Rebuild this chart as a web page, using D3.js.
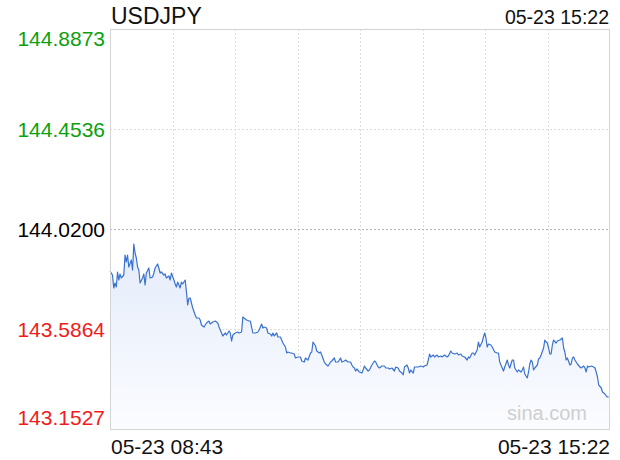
<!DOCTYPE html>
<html>
<head>
<meta charset="utf-8">
<script src="https://cdn.jsdelivr.net/npm/d3@7"></script>
<style>
body { margin: 0; background: #fff; }
text { font-family: "Liberation Sans", Arial, sans-serif; }
</style>
</head>
<body>
<div id="chart"></div>
<script>
const svg_w = 620;
const svg_h = 460;
const left_margin = 110;
const right_edge = 610;
const top_edge = 29;
const bottom_edge = 429;

const symbol = "USDJPY";
const stampLabel = "05-23 15:22";
const startLabel = "05-23 08:43";
const endLabel = "05-23 15:22";
const sessionMinutes = 399; // 08:43 -> 15:22
const prevClose = 144.0200;
const yTicks = [144.8873, 144.4536, 144.0200, 143.5864, 143.1527];

// minutes since 08:43
const times = [
    0,2,3,4,5,6,7,8,9,11,12,13,14,15,17,18,19,20,21,22,23,24,26,27,28,29,31,32,34,35,36,38,39,40,41,43,44,45,47,48,49,51,52,53,54,56,57,58,60,61,62,63,64,65,66,68,69,71,
    72,73,75,77,79,80,82,84,86,87,89,90,92,93,95,96,97,98,100,102,103,105,106,108,109,111,112,113,114,116,118,119,121,122,123,125,126,128,129,130,131,133,134,136,137,138,140,141,142,144,145,147,148,150,
    152,153,155,156,158,160,161,162,164,165,167,168,169,171,172,174,176,177,179,180,182,184,185,187,188,190,192,193,194,195,196,197,199,201,202,203,204,206,207,209,211,212,214,215,217,219,220,222,223,225,227,228,230,
    231,233,234,235,237,238,239,240,242,243,244,246,248,250,251,253,254,255,256,258,259,261,262,264,265,267,269,270,272,273,275,277,278,280,281,283,285,286,287,289,290,291,293,294,295,297,298,299,300,301,302,304,305,307,309,310,
    311,313,314,315,317,318,319,321,322,323,324,325,326,328,329,330,331,333,334,335,336,337,338,339,341,342,343,344,346,347,348,349,350,351,352,353,354,356,357,359,360,361,362,363,364,365,367,368,369,370,371,373,375,376,378,379,380,381,382,384,386,387,388,389,390,392,393,394,395,396,397,398
];

const prices = [
    143.8379,143.8205,143.7642,143.7858,143.7685,143.8335,143.7988,143.8249,143.8075,143.8205,
    143.9073,143.8769,143.9073,143.8552,143.8856,143.8422,143.9550,143.9159,143.8942,143.8552,
    143.8422,143.7858,143.8075,143.8249,143.7772,143.8292,143.8509,143.8075,143.8119,143.8292,
    143.8509,143.8682,143.8509,143.8292,143.8335,143.8205,143.8249,143.8075,143.8162,143.7988,
    143.8292,143.7988,143.7815,143.7685,143.7902,143.7642,143.7902,143.7815,143.7988,143.7468,
    143.6904,143.7208,143.7208,143.6991,143.6774,143.6471,143.6341,143.6341,
    143.6254,143.6037,143.5950,143.6124,143.6210,143.6080,143.6167,143.6210,143.6124,143.5950,
    143.5690,143.5560,143.5690,143.5603,143.5777,143.5690,143.5343,143.5603,143.5690,143.5733,
    143.5690,143.5733,143.6384,143.6297,143.6254,143.6210,143.6210,143.5950,143.5690,143.5690,
    143.5733,143.5820,143.6080,143.5907,143.5950,143.5907,143.5690,143.5647,143.5560,143.5690,
    143.5560,143.5690,143.5517,143.5517,143.5386,143.5256,143.5083,143.4823,143.4866,143.4823,
    143.4823,143.4779,143.4606,143.4649,
    143.4649,143.4476,143.4432,143.4606,143.4519,143.4823,143.4866,143.5300,143.5126,143.4909,
    143.4823,143.4866,143.4736,143.4432,143.4346,143.4259,143.4432,143.4476,143.4606,143.4432,
    143.4432,143.4606,143.4432,143.4476,143.4519,143.4432,143.4432,143.4302,143.4216,143.4172,
    143.4042,143.4129,143.3999,143.3955,143.4086,143.4259,143.4172,143.4042,143.4086,143.4302,
    143.4476,143.4432,143.4216,143.4172,143.4259,143.4259,143.4172,143.4172,143.4129,143.4172,
    143.4042,143.4216,143.4172,
    143.4042,143.3955,143.3869,143.4216,143.4302,143.4172,143.3955,143.4086,143.3955,143.4216,
    143.4216,143.4216,143.4259,143.4216,143.4259,143.4302,143.4519,143.4779,143.4649,143.4736,
    143.4649,143.4736,143.4649,143.4693,143.4649,143.4736,143.4649,143.4693,143.4909,143.4823,
    143.4779,143.4823,143.4736,143.4779,143.4693,143.4649,143.4519,143.4649,143.4606,143.4823,
    143.4823,143.4736,143.4953,143.5300,143.5083,143.5300,143.5517,143.5690,143.5473,143.5083,
    143.5213,143.5170,143.5083,143.4866,143.4823,143.4823,
    143.4432,143.4172,143.4042,143.4216,143.4519,143.4302,143.4172,143.4519,143.4519,143.4172,
    143.4086,143.3999,143.4086,143.3999,143.4086,143.4216,143.3912,143.3739,143.3999,143.4346,
    143.4519,143.4432,143.4086,143.4172,143.4302,143.4563,143.4606,143.4736,143.5040,143.5386,
    143.5300,143.5256,143.5040,143.4779,143.4779,143.5170,143.5386,143.5256,143.5343,143.5386,
    143.5430,143.5473,143.5040,143.4866,143.4519,143.4606,143.4302,143.4346,143.4606,143.4649,
    143.4519,143.4346,143.4216,143.4172,143.4259,143.4172,143.3999,143.4259,143.4216,143.4259,
    143.4216,143.4172,143.3999,143.3782,143.3435,143.3305,143.3132,143.3088,143.3045,143.2958,
    143.2915,143.2915
];

function drawChart() {
    var data = d3.zip(times, prices).map(d => ({t: d[0], p: d[1]}));

    var svg = d3.select("#chart").append("svg")
        .attr("width", svg_w)
        .attr("height", svg_h);

    var x = d3.scaleLinear()
        .domain([0, sessionMinutes])
        .range([left_margin, right_edge]);
    var y = d3.scaleLinear()
        .domain([yTicks[yTicks.length-1], yTicks[0]])
        .range([bottom_edge, top_edge]);

    //gradient under the line
    var grad = svg.append("defs").append("linearGradient")
        .attr("id", "area-grad")
        .attr("x1", "0%").attr("y1", "0%")
        .attr("x2", "0%").attr("y2", "100%");
    grad.append("stop").attr("offset", "0%").attr("stop-color", "#e4ecfa");
    grad.append("stop").attr("offset", "100%").attr("stop-color", "#fbfcff");

    //vertical dotted grid, 8 equal columns
    var cols = d3.range(1, 8).map(i => i*sessionMinutes/8);
    svg.selectAll(".vgrid")
        .data(cols)
        .enter()
        .append("line")
        .attr("x1", d => Math.round(x(d))+0.5)
        .attr("x2", d => Math.round(x(d))+0.5)
        .attr("y1", top_edge)
        .attr("y2", bottom_edge)
        .attr("stroke", "#dcdcdc")
        .attr("stroke-dasharray", "2,2");

    //horizontal grid at inner ticks
    svg.selectAll(".hgrid")
        .data(yTicks.slice(1, -1))
        .enter()
        .append("line")
        .attr("x1", left_margin)
        .attr("x2", right_edge)
        .attr("y1", d => Math.round(y(d))+0.5)
        .attr("y2", d => Math.round(y(d))+0.5)
        .attr("stroke", d => d === prevClose ? "#b4b4b4" : "#dcdcdc")
        .attr("stroke-dasharray", "2,2");

    //area + line
    var area = d3.area()
        .x(d => x(d.t))
        .y0(bottom_edge)
        .y1(d => y(d.p));
    svg.append("path")
        .datum(data)
        .attr("d", area)
        .attr("fill", "url(#area-grad)");

    var line = d3.line()
        .x(d => x(d.t))
        .y(d => y(d.p));
    svg.append("path")
        .datum(data)
        .attr("d", line)
        .attr("fill", "none")
        .attr("stroke", "#3b72cf")
        .attr("stroke-width", 1.2)
        .attr("stroke-linejoin", "round");

    //frame
    svg.append("rect")
        .attr("x", left_margin+0.5)
        .attr("y", top_edge+0.5)
        .attr("width", right_edge-left_margin-1)
        .attr("height", bottom_edge-top_edge)
        .attr("fill", "none")
        .attr("stroke", "#d4d4d4");

    //price labels on the left
    svg.selectAll(".ylab")
        .data(yTicks)
        .enter()
        .append("text")
        .attr("x", left_margin-5)
        .attr("y", (d, i) => {
            if(i === 0) return y(d)+17;
            if(i === yTicks.length-1) return y(d)-4;
            return y(d)+8;
        })
        .attr("text-anchor", "end")
        .attr("font-size", 21)
        .attr("fill", d => d > prevClose ? "#0ca10c" : (d < prevClose ? "#f01c1c" : "#000"))
        .text(d => d.toFixed(4));

    //watermark
    svg.append("text")
        .attr("x", 587)
        .attr("y", 420)
        .attr("text-anchor", "end")
        .attr("font-size", 20)
        .attr("fill", "#cfcfcf")
        .text("sina.com");

    //title + timestamp
    svg.append("text")
        .attr("x", left_margin+1)
        .attr("y", 24)
        .attr("font-size", 23)
        .attr("fill", "#111")
        .text(symbol);
    svg.append("text")
        .attr("x", right_edge-1)
        .attr("y", 24)
        .attr("text-anchor", "end")
        .attr("font-size", 19.5)
        .attr("fill", "#111")
        .text(stampLabel);

    //time labels under the chart
    svg.append("text")
        .attr("x", x(0)+1)
        .attr("y", 454)
        .attr("font-size", 21)
        .attr("fill", "#111")
        .text(startLabel);
    svg.append("text")
        .attr("x", x(sessionMinutes))
        .attr("y", 454)
        .attr("text-anchor", "end")
        .attr("font-size", 21)
        .attr("fill", "#111")
        .text(endLabel);
}

drawChart();
</script>
</body>
</html>
